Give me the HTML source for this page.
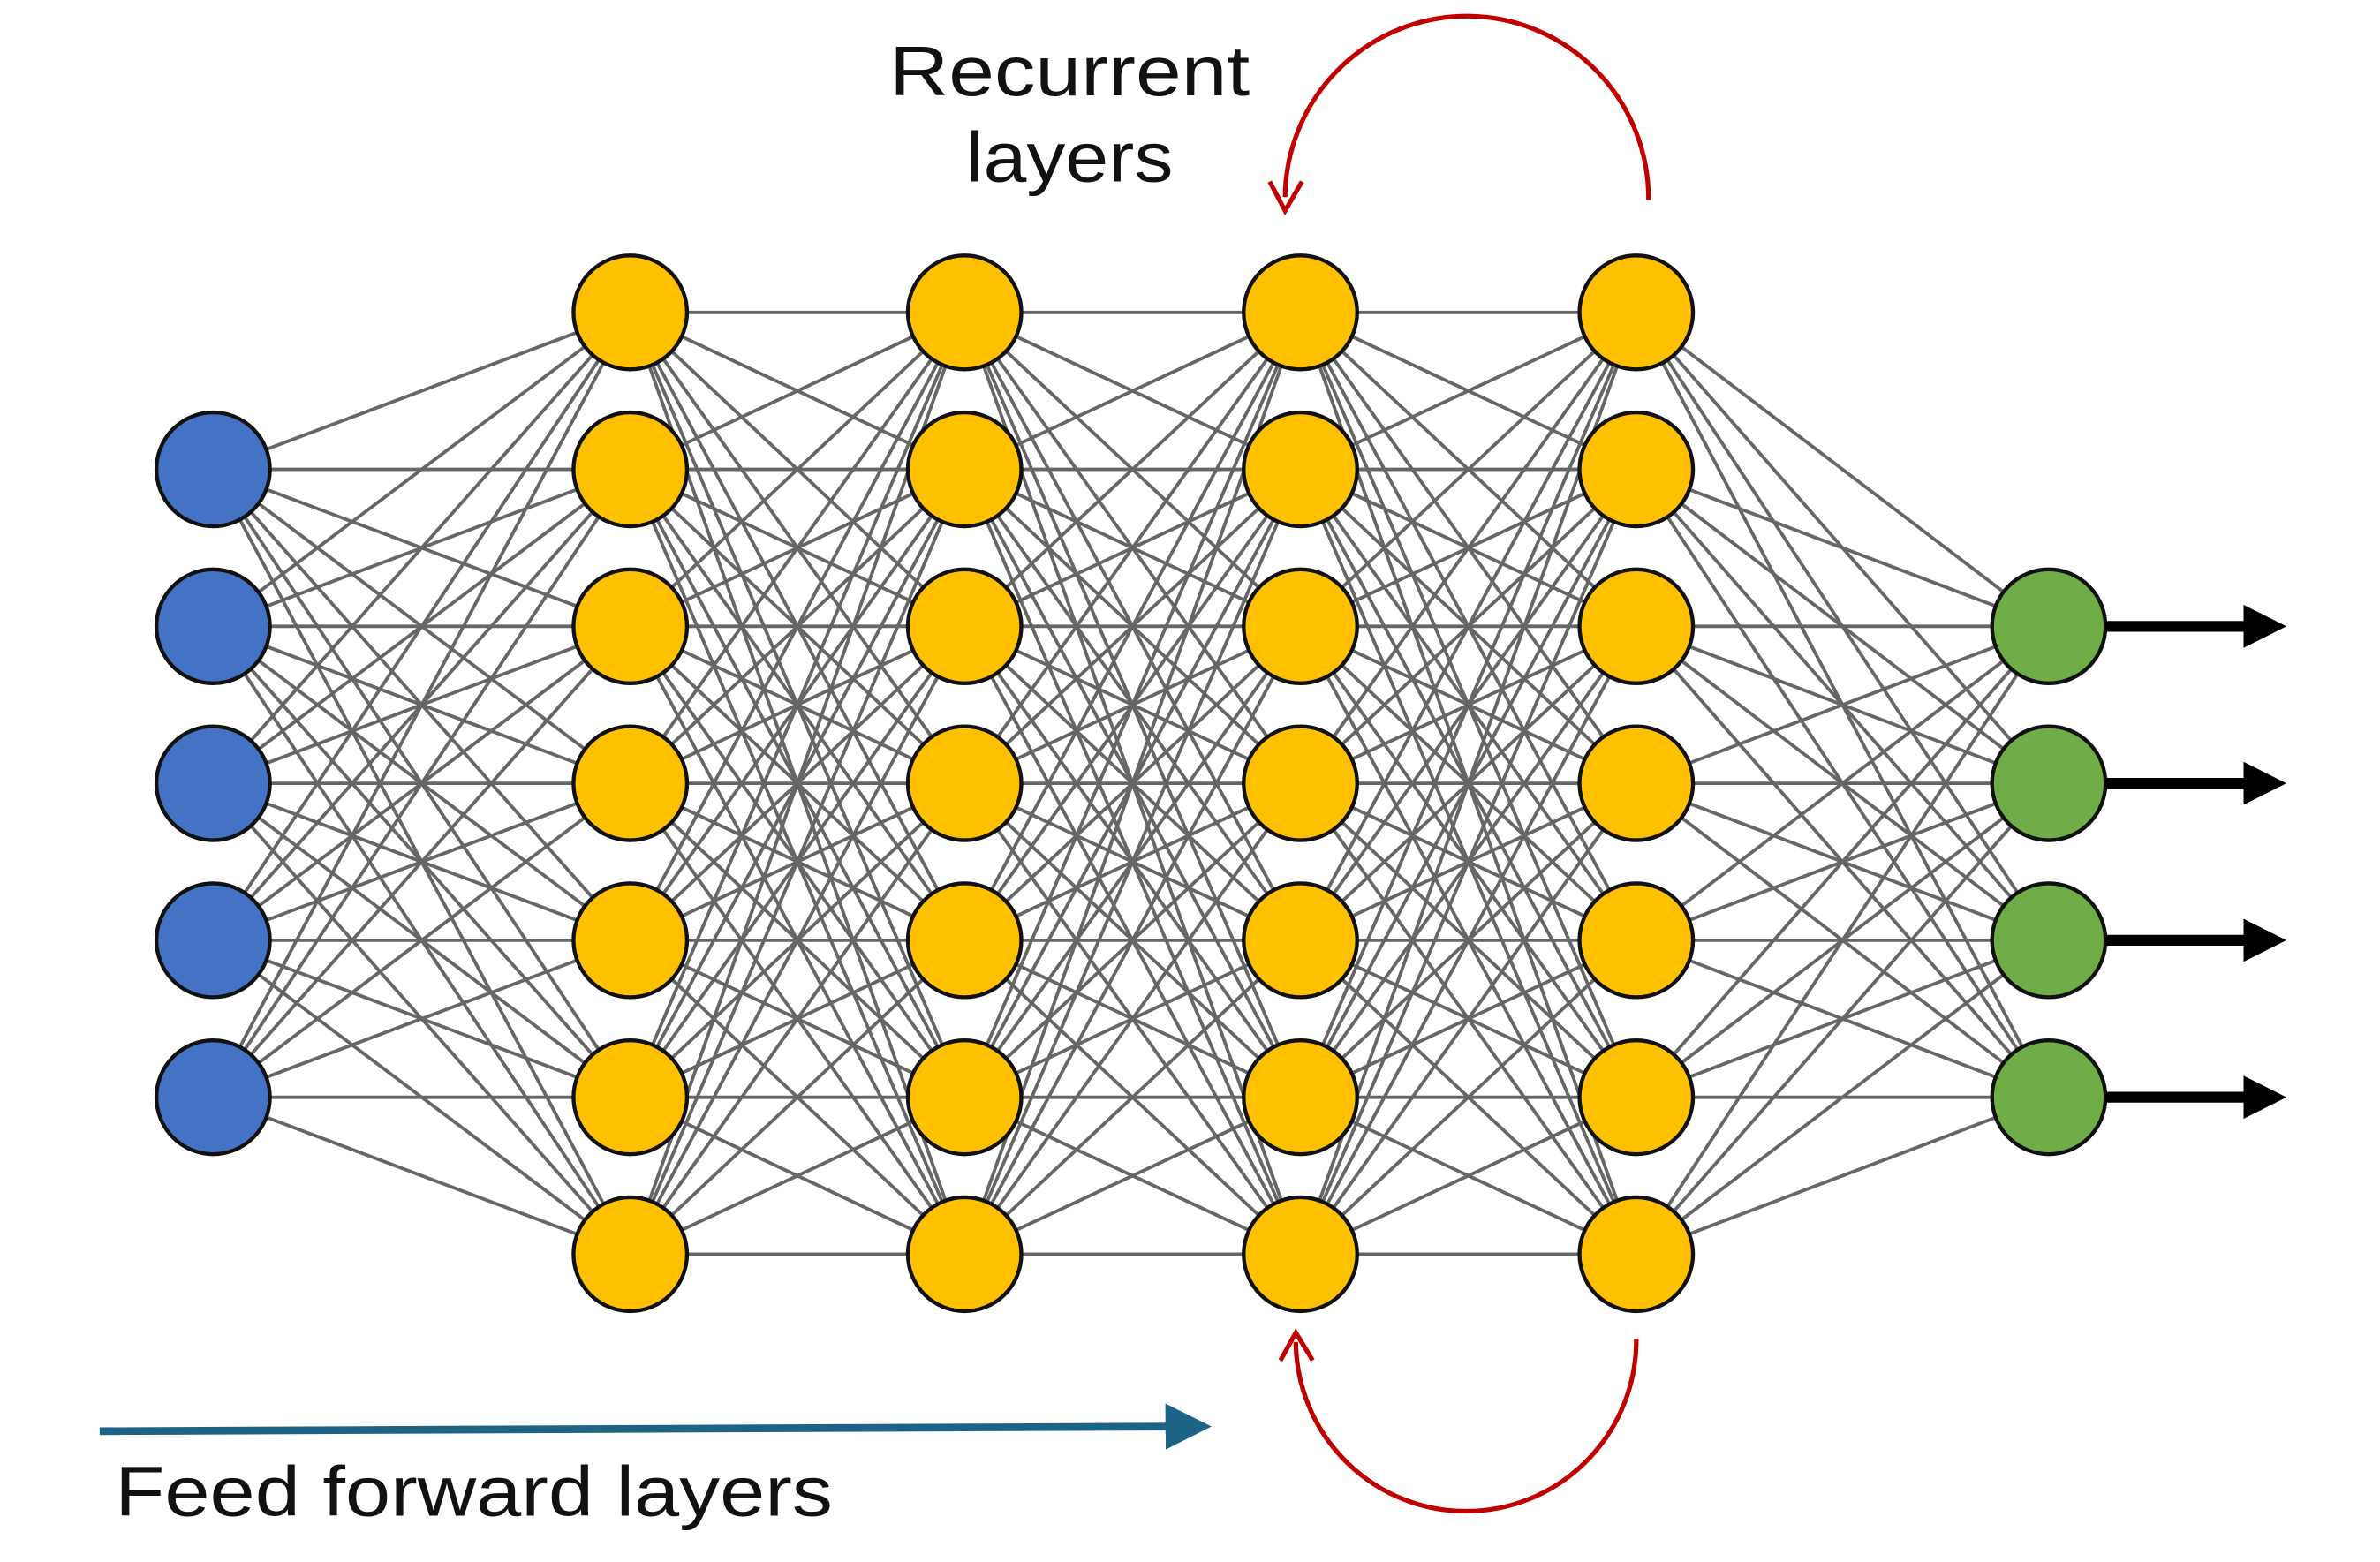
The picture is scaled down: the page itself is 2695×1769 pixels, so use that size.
<!DOCTYPE html>
<html><head><meta charset="utf-8"><style>
html,body{margin:0;padding:0;background:#fff;}
svg{display:block;}
</style></head><body>
<svg id="s" width="2695" height="1769" viewBox="0 0 1552 1015" preserveAspectRatio="none" xmlns="http://www.w3.org/2000/svg">
<defs>
<marker id="bk" markerWidth="4" markerHeight="4" refX="1" refY="2" orient="auto" markerUnits="strokeWidth"><path d="M0,0 L4,2 L0,4 z" fill="#000"/></marker>
<marker id="bl" markerWidth="6" markerHeight="6" refX="1" refY="3" orient="auto" markerUnits="strokeWidth"><path d="M0,0 L6,3 L0,6 z" fill="#1d6385"/></marker>
</defs>
<g id="lines" stroke="#666" stroke-width="2.2"></g>
<g id="nodes" stroke="#111" stroke-width="2.5"></g>
<g stroke="#000" stroke-width="7" marker-end="url(#bk)">
<line x1="1373" y1="407" x2="1470" y2="407"/>
<line x1="1373" y1="509" x2="1470" y2="509"/>
<line x1="1373" y1="611" x2="1470" y2="611"/>
<line x1="1373" y1="713" x2="1470" y2="713"/>
</g>
<line x1="65" y1="930" x2="765" y2="927" stroke="#1d6385" stroke-width="5" marker-end="url(#bl)"/>
<path d="M1075,130 A118,118 0 1 0 838,128" fill="none" stroke="#c00000" stroke-width="3"/>
<path d="M828,118 L838,137 L849,118" fill="none" stroke="#c00000" stroke-width="3"/>
<path d="M1067,870 A111,111 0 1 1 845,872" fill="none" stroke="#c00000" stroke-width="3"/>
<path d="M835,884 L845,866 L856,884" fill="none" stroke="#c00000" stroke-width="3"/>
<g font-family="Liberation Sans, sans-serif" font-size="46" fill="#111">
<text x="580" y="62" textLength="235" lengthAdjust="spacingAndGlyphs">Recurrent</text>
<text x="630" y="118" textLength="135" lengthAdjust="spacingAndGlyphs">layers</text>
<text x="75" y="985" textLength="468" lengthAdjust="spacingAndGlyphs">Feed forward layers</text>
</g>
</svg>
<script>
var cols=[
 {x:139,ys:[305,407,509,611,713],c:"#4472c4"},
 {x:411,ys:[203,305,407,509,611,713,815],c:"#ffc000"},
 {x:629,ys:[203,305,407,509,611,713,815],c:"#ffc000"},
 {x:848,ys:[203,305,407,509,611,713,815],c:"#ffc000"},
 {x:1067,ys:[203,305,407,509,611,713,815],c:"#ffc000"},
 {x:1336,ys:[407,509,611,713],c:"#70ad47"}];
var NS="http://www.w3.org/2000/svg",L=document.getElementById("lines"),N=document.getElementById("nodes");
for(var i=0;i<cols.length-1;i++){var a=cols[i],b=cols[i+1];
 a.ys.forEach(function(y1){b.ys.forEach(function(y2){var l=document.createElementNS(NS,"line");
 l.setAttribute("x1",a.x);l.setAttribute("y1",y1);l.setAttribute("x2",b.x);l.setAttribute("y2",y2);L.appendChild(l);});});}
cols.forEach(function(c){c.ys.forEach(function(y){var e=document.createElementNS(NS,"circle");
 e.setAttribute("cx",c.x);e.setAttribute("cy",y);e.setAttribute("r",37);e.setAttribute("fill",c.c);N.appendChild(e);});});
</script>
</body></html>
